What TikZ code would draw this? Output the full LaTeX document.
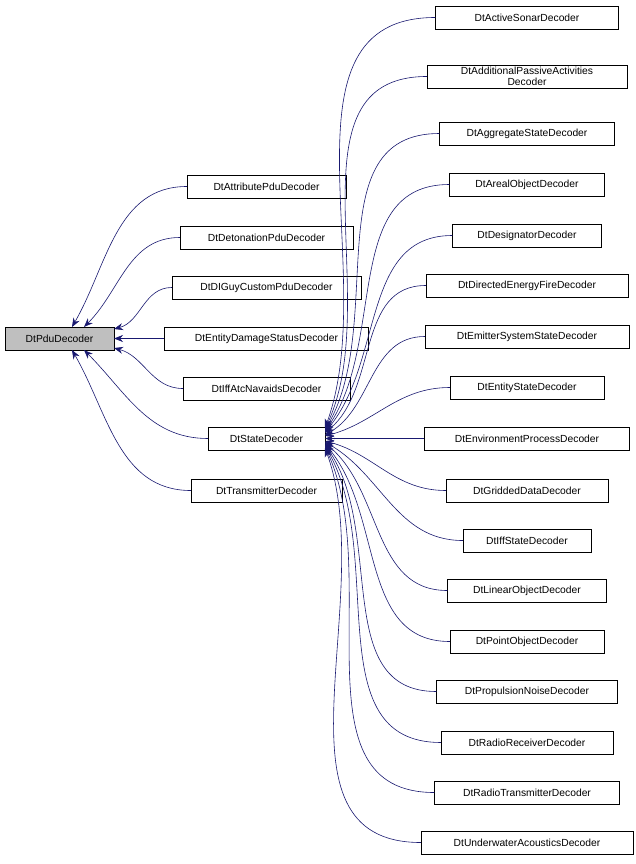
\documentclass[tikz,border=0pt]{standalone}
\usepackage{fontspec}
\setmainfont{Liberation Sans}
\usetikzlibrary{arrows.meta}
\definecolor{edgeblue}{RGB}{25,25,112}
\tikzset{
  cls/.style={draw,fill=white,font=\fontsize{10.3}{11.5}\selectfont,inner sep=1pt,minimum height=23pt,align=center},
  inh/.style={{Stealth[length=9pt,width=7pt]}-,edgeblue,semithick}
}
\begin{document}
\begin{tikzpicture}[x=1pt,y=-1pt]
\useasboundingbox (0,0) rectangle (635,864);
\node[cls,fill=black!25,minimum width=109pt] (pdu) at (59.5,338.5) {DtPduDecoder};
% middle column
\foreach \name/\txt/\y/\w/\ex/\ey/\ang in {
  attr/DtAttributePduDecoder/186.5/159/72/327/60,
  deto/DtDetonationPduDecoder/237.5/173/84/327/45,
  guy/DtDIGuyCustomPduDecoder/287.5/189/114/329/15,
  dmg/DtEntityDamageStatusDecoder/338.5/204/114/338.5/0,
  iff/DtIffAtcNavaidsDecoder/388.5/167/114/348/-15,
  state/DtStateDecoder/438.5/117/84/350/-45,
  trans/DtTransmitterDecoder/490.5/151/72/350/-60}
{
  \node[cls,minimum width=\w pt] (\name) at (266.5,\y) {\txt};
  \draw[inh] (\ex,\ey) to[out=\ang,in=180] (\name.west);
}
% right column
\foreach \name/\txt/\y/\w/\ey/\ang in {
  sonar/DtActiveSonarDecoder/17.5/183/428/70,
  apa/{DtAdditionalPassiveActivities\\Decoder}/76.5/200/429/65,
  aggr/DtAggregateStateDecoder/133.5/175/430/60,
  areal/DtArealObjectDecoder/184.5/155/431/55,
  desig/DtDesignatorDecoder/235.5/149/432/50,
  def/DtDirectedEnergyFireDecoder/285.5/202/433/40,
  emit/DtEmitterSystemStateDecoder/336.5/204/435/30,
  ent/DtEntityStateDecoder/387.5/154/436/15,
  env/DtEnvironmentProcessDecoder/438.5/205/438.5/0,
  grid/DtGriddedDataDecoder/490.5/162/441/-15,
  iffs/DtIffStateDecoder/540.5/128/442/-30,
  lin/DtLinearObjectDecoder/590.5/159/443/-40,
  point/DtPointObjectDecoder/641.5/154/444/-50,
  prop/DtPropulsionNoiseDecoder/691.5/181/445/-55,
  rrec/DtRadioReceiverDecoder/742.5/172/446/-60,
  rtr/DtRadioTransmitterDecoder/792.5/185/447/-65,
  uwa/DtUnderwaterAcousticsDecoder/842.5/212/448/-70}
{
  \node[cls,minimum width=\w pt] (\name) at (527,\y) {\txt};
  \draw[inh] (325,\ey) to[out=\ang,in=180] (\name.west);
}
\end{tikzpicture}
\end{document}
